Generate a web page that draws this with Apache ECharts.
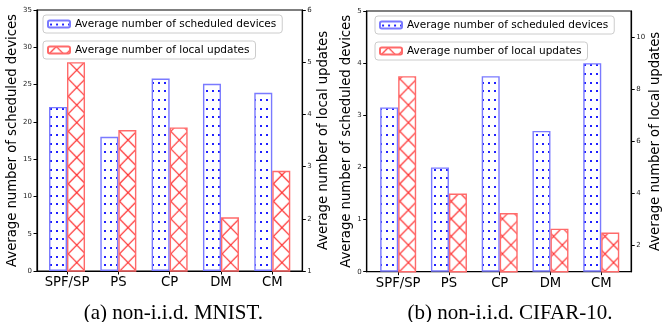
<!DOCTYPE html>
<html><head><meta charset="utf-8">
<script src="https://cdn.jsdelivr.net/npm/echarts@6/dist/echarts.min.js"></script>
<style>html,body{margin:0;padding:0;background:#fff}#c{width:663px;height:322px}</style>
</head><body><div id="c"></div>
<script>
// ---- data ----
const categories = ['SPF/SP', 'PS', 'CP', 'DM', 'CM'];
const mnistDevices = [22.0, 18.0, 25.8, 25.1, 23.9];
const mnistUpdates = [5.0, 3.7, 3.75, 2.03, 2.92];
const cifarDevices = [3.15, 2.0, 3.75, 2.7, 4.0];
const cifarUpdates = [8.5, 4.0, 3.25, 2.65, 2.5];
const mnistLeftTicks = [0, 5, 10, 15, 20, 25, 30, 35];
const mnistRightTicks = [1, 2, 3, 4, 5, 6];
const cifarLeftTicks = [0, 1, 2, 3, 4, 5];
const cifarRightTicks = [2, 4, 6, 8, 10];
const categoryTicks = [0, 1, 2, 3, 4];
const nameDevices = 'Average number of scheduled devices';
const nameUpdates = 'Average number of local updates';
const captions = ['(a) non-i.i.d. MNIST.', '(b) non-i.i.d. CIFAR-10.'];

// ---- fill patterns (styles only) ----
function dotCanvas() {
  const c = document.createElement('canvas');
  c.width = 6; c.height = 87;
  const g = c.getContext('2d');
  g.fillStyle = '#2020ff';
  for (let j = 0; j < 10; j++) {
    const y = Math.round(4.35 + 8.7 * j) - 1;
    g.fillRect(2, y, 2, 2);
  }
  return c;
}
function crossCanvas() {
  const c = document.createElement('canvas');
  c.width = 171; c.height = 175;
  const g = c.getContext('2d');
  g.strokeStyle = 'rgba(255,20,20,0.9)';
  g.lineWidth = 1.2;
  g.beginPath();
  for (let k = -12; k <= 22; k++) {
    const x0 = 17.1 * k;
    g.moveTo(x0, 0); g.lineTo(x0 + 171, 175);
    g.moveTo(x0, 0); g.lineTo(x0 - 171, 175);
  }
  g.stroke();
  return c;
}
const dots = dotCanvas(), cross = crossCanvas();
function pat(img, x, y) { return { image: img, repeat: 'repeat', x: x, y: y }; }

const blueStyle = (ox) => ({ color: pat(dots, ox, 0), borderColor: '#7a7aff', borderWidth: 1.4 });
const redStyle = (ox) => ({ color: pat(cross, ox, 8.75), borderColor: '#ff6a6a', borderWidth: 1.4 });

const font = 'DejaVu Sans';
function xAxis(gi, min, max) {
  return {
    type: 'value', gridIndex: gi, min: min, max: max,
    axisLine: { show: true, onZero: false, lineStyle: { color: '#000', width: 1.2 } },
    axisTick: { show: true, customValues: categoryTicks, length: 3.5, lineStyle: { color: '#000', width: 1 } },
    axisLabel: { customValues: categoryTicks, formatter: v => categories[Math.round(v)], fontSize: 13.2, fontFamily: font, color: '#000', margin: 5 },
    splitLine: { show: false }
  };
}
function yAxis(gi, pos, min, max, ticks, name, gap) {
  return {
    type: 'value', gridIndex: gi, position: pos, min: min, max: max,
    name: name, nameLocation: 'middle', nameGap: gap,
    nameTextStyle: { fontSize: 13.2, fontFamily: font, color: '#000' },
    axisLine: { show: true, onZero: false, lineStyle: { color: '#000', width: 1.2 } },
    axisTick: { show: true, customValues: ticks, length: 3.5, lineStyle: { color: '#000', width: 1 } },
    axisLabel: { customValues: ticks, fontSize: 7, fontFamily: font, color: '#222', margin: 5 },
    splitLine: { show: false }
  };
}
function legend(name, left, top) {
  return {
    data: [name], left: left, top: top, orient: 'horizontal',
    selectedMode: false, padding: [3, 6, 3, 4],
    itemWidth: 22, itemHeight: 7,
    borderColor: '#cccccc', borderWidth: 1, borderRadius: 3,
    backgroundColor: 'rgba(255,255,255,0.85)',
    textStyle: { fontSize: 10.5, fontFamily: font, color: '#000', lineHeight: 12 }
  };
}
const pairs = (arr) => arr.map((v, i) => [i, v]);

const chart = echarts.init(document.getElementById('c'), null, { renderer: 'canvas' });
chart.setOption({
  animation: false,
  backgroundColor: '#fff',
  grid: [
    { left: 37, top: 10, width: 265.3, height: 261, show: true, borderColor: '#000', borderWidth: 1.2, backgroundColor: 'transparent' },
    { left: 366.7, top: 11, width: 267.6, height: 260.7, show: true, borderColor: '#000', borderWidth: 1.2, backgroundColor: 'transparent' }
  ],
  xAxis: [xAxis(0, -0.585, 4.585), xAxis(1, -0.62, 4.59)],
  yAxis: [
    yAxis(0, 'left', 0, 35, mnistLeftTicks, nameDevices, 17.5),
    yAxis(0, 'right', 1, 6, mnistRightTicks, nameUpdates, 14.4),
    yAxis(1, 'left', 0, 5, cifarLeftTicks, nameDevices, 10.5),
    yAxis(1, 'right', 1, 11, cifarRightTicks, nameUpdates, 10.7)
  ],
  legend: [
    legend(nameDevices, 43, 15), legend(nameUpdates, 43, 41),
    legend(nameDevices, 375, 16), legend(nameUpdates, 375, 42)
  ],
  series: [
    { type: 'bar', name: nameDevices, xAxisIndex: 0, yAxisIndex: 0, data: pairs(mnistDevices), barWidth: 18, barGap: '0%', itemStyle: blueStyle(0) },
    { type: 'bar', name: nameUpdates, xAxisIndex: 0, yAxisIndex: 1, data: pairs(mnistUpdates), barWidth: 18, barGap: '0%', itemStyle: redStyle(16.85) },
    { type: 'bar', name: nameDevices, xAxisIndex: 1, yAxisIndex: 2, data: pairs(cifarDevices), barWidth: 18, barGap: '0%', itemStyle: blueStyle(0) },
    { type: 'bar', name: nameUpdates, xAxisIndex: 1, yAxisIndex: 3, data: pairs(cifarUpdates), barWidth: 18, barGap: '0%', itemStyle: redStyle(6.45) }
  ],
  graphic: [
    { type: 'text', x: 173.3, y: 313, style: { text: captions[0], font: '21px "Liberation Serif"', fill: '#000', textAlign: 'center', textVerticalAlign: 'middle' } },
    { type: 'text', x: 510, y: 313, style: { text: captions[1], font: '21px "Liberation Serif"', fill: '#000', textAlign: 'center', textVerticalAlign: 'middle' } }
  ]
});
</script></body></html>
